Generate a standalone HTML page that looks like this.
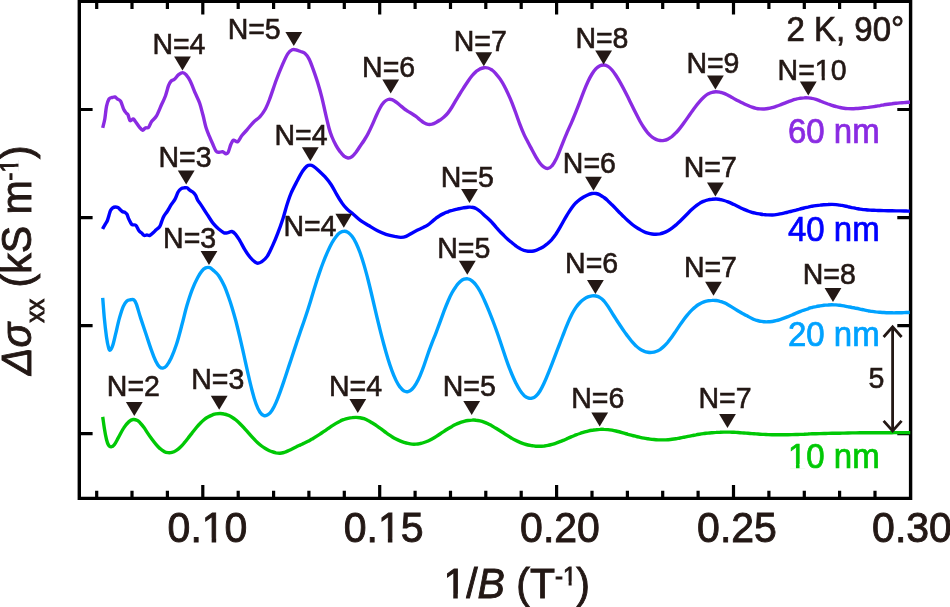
<!DOCTYPE html>
<html lang="en"><head><meta charset="utf-8"><title>SdH oscillations</title>
<style>
html,body{margin:0;padding:0;background:#fff;}
body{width:950px;height:607px;overflow:hidden;}
svg{display:block;font-family:"Liberation Sans",sans-serif;font-kerning:none;}
.n{font-size:28.5px;fill:#231815;stroke:#231815;stroke-width:0.6px;}
.tk{font-size:41px;fill:#231815;stroke:#231815;stroke-width:0.9px;}
.lb{font-size:33px;stroke-width:0.7px;}
</style></head><body>
<svg width="950" height="607" viewBox="0 0 950 607">
<rect width="950" height="607" fill="#fff"/>
<g stroke="#000" stroke-width="3.4" fill="none" stroke-linecap="butt">
<path d="M79.3,1.3 H910.6 V498.4 H79.3 Z"/>
<path stroke-width="3.2" d="M96.7,1.3v7.6M96.7,498.4v-7.6M132.0,1.3v7.6M132.0,498.4v-7.6M167.4,1.3v7.6M167.4,498.4v-7.6M202.8,1.3v13.3M202.8,498.4v-13.3M238.2,1.3v7.6M238.2,498.4v-7.6M273.6,1.3v7.6M273.6,498.4v-7.6M308.9,1.3v7.6M308.9,498.4v-7.6M344.3,1.3v7.6M344.3,498.4v-7.6M379.7,1.3v13.3M379.7,498.4v-13.3M415.1,1.3v7.6M415.1,498.4v-7.6M450.5,1.3v7.6M450.5,498.4v-7.6M485.8,1.3v7.6M485.8,498.4v-7.6M521.2,1.3v7.6M521.2,498.4v-7.6M556.6,1.3v13.3M556.6,498.4v-13.3M592.0,1.3v7.6M592.0,498.4v-7.6M627.4,1.3v7.6M627.4,498.4v-7.6M662.7,1.3v7.6M662.7,498.4v-7.6M698.1,1.3v7.6M698.1,498.4v-7.6M733.5,1.3v13.3M733.5,498.4v-13.3M768.9,1.3v7.6M768.9,498.4v-7.6M804.3,1.3v7.6M804.3,498.4v-7.6M839.6,1.3v7.6M839.6,498.4v-7.6M875.0,1.3v7.6M875.0,498.4v-7.6M79.3,109.5h13.3M910.6,109.5h-13.3M79.3,217.6h13.3M910.6,217.6h-13.3M79.3,325.7h13.3M910.6,325.7h-13.3M79.3,433.7h13.3M910.6,433.7h-13.3"/>
</g>
<path id="c60" d="M102.7,127.9C103.0,126.4 104.2,122.6 104.8,119.0C105.4,115.4 105.8,109.7 106.5,106.4C107.2,103.1 108.0,100.5 109.0,99.0C110.0,97.5 111.2,97.8 112.2,97.5C113.2,97.2 114.0,96.7 114.9,96.9C115.8,97.2 116.5,98.3 117.4,99.0C118.4,99.7 119.5,99.4 120.6,101.1C121.7,102.9 122.8,107.5 123.8,109.5C124.8,111.5 125.6,112.2 126.3,113.1C127.0,114.0 127.4,113.5 128.0,114.8C128.6,116.1 129.2,120.0 130.1,120.7C131.0,121.4 132.3,118.9 133.2,119.0C134.1,119.1 134.3,120.1 135.4,121.5C136.5,122.9 138.4,126.0 139.6,127.4C140.8,128.9 141.8,130.1 142.7,130.2C143.6,130.3 144.3,128.4 145.3,127.9C146.3,127.4 147.6,128.5 148.6,127.4C149.6,126.3 150.3,123.4 151.6,121.5C152.9,119.6 154.8,118.7 156.5,115.8C158.2,112.9 160.2,107.5 161.7,104.2C163.2,100.9 164.4,98.9 165.5,95.8C166.6,92.7 167.6,88.2 168.5,85.7C169.4,83.2 170.2,82.1 171.2,81.0C172.2,79.9 173.2,80.4 174.4,79.3C175.6,78.3 177.2,75.8 178.6,74.7C180.0,73.6 181.6,72.6 182.8,72.6C184.0,72.6 184.8,73.3 186.0,74.7C187.2,76.1 188.6,77.8 190.2,81.0C191.8,84.2 193.9,90.0 195.5,93.7C197.1,97.4 198.5,99.7 199.7,103.2C200.9,106.7 201.8,110.8 202.9,114.8C204.0,118.8 204.9,123.9 206.0,127.4C207.1,130.9 208.1,133.2 209.2,135.9C210.3,138.6 211.2,140.7 212.4,143.3C213.6,145.9 215.1,149.8 216.2,151.3C217.3,152.8 218.0,152.2 219.1,152.3C220.2,152.4 221.3,151.5 222.5,151.7C223.7,152.0 225.2,153.7 226.1,153.8C227.0,153.9 227.4,153.9 228.2,152.3C229.0,150.7 230.0,146.3 230.9,144.3C231.8,142.3 232.4,140.5 233.5,140.1C234.6,139.7 236.3,142.6 237.7,141.8C239.1,141.0 240.3,137.5 241.9,135.5C243.5,133.5 245.3,131.8 247.2,129.6C249.1,127.4 251.4,124.3 253.5,122.2C255.6,120.1 257.9,119.0 259.8,116.9C261.7,114.8 263.5,112.3 265.1,109.5C266.7,106.7 267.4,104.9 269.3,100.0C271.2,95.1 274.1,86.0 276.3,80.0C278.5,74.0 280.8,68.6 282.7,64.2C284.6,59.8 286.3,56.0 287.9,53.6C289.5,51.2 290.8,50.4 292.2,49.8C293.6,49.2 295.0,49.7 296.4,50.0C297.8,50.3 299.2,51.0 300.6,51.5C302.0,52.0 303.4,52.0 304.8,53.2C306.2,54.4 307.6,56.2 309.0,58.9C310.4,61.6 311.8,65.5 313.2,69.4C314.6,73.3 316.1,77.5 317.5,82.1C318.9,86.7 320.4,91.8 321.7,96.9C323.0,102.0 324.1,107.4 325.3,112.7C326.5,118.0 328.0,124.4 329.1,128.5C330.2,132.6 330.9,134.2 332.0,137.0C333.1,139.8 334.7,143.0 336.0,145.4C337.3,147.9 338.7,149.9 340.0,151.6C341.3,153.4 342.7,155.0 344.0,156.1C345.3,157.1 346.7,157.9 348.0,158.0C349.3,158.1 350.7,157.7 352.0,156.7C353.3,155.7 354.7,154.0 356.0,152.3C357.3,150.5 358.7,148.3 360.0,146.3C361.3,144.4 362.7,142.6 364.0,140.5C365.3,138.4 366.7,136.3 368.0,133.7C369.3,131.2 370.7,128.3 372.0,125.4C373.3,122.5 374.7,119.1 376.0,116.2C377.3,113.3 378.7,110.3 380.0,108.0C381.3,105.6 382.7,103.6 384.0,102.2C385.3,100.8 386.7,99.9 388.0,99.5C389.3,99.1 390.7,99.3 392.0,99.7C393.3,100.2 394.7,101.1 396.0,102.0C397.3,102.9 398.7,104.1 400.0,105.2C401.3,106.3 402.7,107.6 404.0,108.6C405.3,109.6 406.7,110.5 408.0,111.4C409.3,112.2 410.7,112.9 412.0,113.7C413.3,114.5 414.7,115.4 416.0,116.4C417.3,117.4 418.7,118.7 420.0,119.8C421.3,120.8 422.7,122.0 424.0,122.8C425.3,123.5 426.7,124.2 428.0,124.4C429.3,124.6 430.7,124.5 432.0,124.2C433.3,123.8 434.7,123.1 436.0,122.4C437.3,121.7 438.7,120.9 440.0,120.0C441.3,119.1 442.7,118.3 444.0,117.1C445.3,115.9 446.7,114.6 448.0,112.9C449.3,111.2 450.7,109.1 452.0,107.0C453.3,104.9 454.7,102.5 456.0,100.2C457.3,98.0 458.7,95.8 460.0,93.6C461.3,91.4 462.7,89.3 464.0,87.3C465.3,85.2 466.7,83.1 468.0,81.2C469.3,79.3 470.7,77.4 472.0,75.8C473.3,74.2 474.7,72.7 476.0,71.6C477.3,70.4 478.7,69.6 480.0,68.9C481.3,68.3 482.7,67.9 484.0,67.7C485.3,67.6 486.7,67.6 488.0,68.0C489.3,68.4 490.7,69.1 492.0,70.0C493.3,71.0 494.7,72.4 496.0,73.9C497.3,75.4 498.7,77.0 500.0,78.9C501.3,80.9 502.7,83.0 504.0,85.5C505.3,87.9 506.7,90.7 508.0,93.6C509.3,96.4 510.7,99.5 512.0,102.8C513.3,106.1 514.7,109.9 516.0,113.5C517.3,117.2 518.7,121.2 520.0,124.7C521.3,128.2 522.7,131.5 524.0,134.4C525.3,137.3 526.7,139.7 528.0,142.3C529.3,144.9 530.7,147.3 532.0,149.8C533.3,152.3 534.7,154.8 536.0,157.1C537.3,159.3 538.7,161.5 540.0,163.2C541.3,164.9 542.7,166.3 544.0,167.2C545.3,168.1 546.7,168.6 548.0,168.4C549.3,168.2 550.7,167.4 552.0,165.8C553.3,164.3 554.7,162.0 556.0,159.3C557.3,156.7 558.7,153.1 560.0,149.9C561.3,146.7 562.7,143.1 564.0,139.9C565.3,136.6 566.7,133.5 568.0,130.4C569.3,127.3 570.7,124.4 572.0,121.3C573.3,118.2 574.7,115.1 576.0,111.7C577.3,108.4 578.7,104.9 580.0,101.4C581.3,97.9 582.7,94.2 584.0,90.9C585.3,87.6 586.7,84.3 588.0,81.5C589.3,78.7 590.7,76.1 592.0,74.0C593.3,71.8 594.7,70.1 596.0,68.7C597.3,67.3 598.7,66.4 600.0,65.7C601.3,65.1 602.7,64.9 604.0,65.0C605.3,65.1 606.7,65.6 608.0,66.4C609.3,67.2 610.7,68.5 612.0,70.0C613.3,71.5 614.7,73.5 616.0,75.5C617.3,77.5 618.7,79.8 620.0,82.1C621.3,84.4 622.7,86.9 624.0,89.5C625.3,92.0 626.7,94.7 628.0,97.3C629.3,100.0 630.7,102.8 632.0,105.5C633.3,108.2 634.7,111.0 636.0,113.6C637.3,116.2 638.7,118.8 640.0,121.2C641.3,123.5 642.7,125.8 644.0,127.8C645.3,129.8 646.7,131.6 648.0,133.2C649.3,134.7 650.7,136.0 652.0,137.0C653.3,138.1 654.7,138.8 656.0,139.4C657.3,140.0 658.7,140.4 660.0,140.5C661.3,140.7 662.7,140.7 664.0,140.4C665.3,140.2 666.7,139.7 668.0,139.1C669.3,138.4 670.7,137.5 672.0,136.5C673.3,135.4 674.7,134.1 676.0,132.7C677.3,131.4 678.7,129.8 680.0,128.1C681.3,126.5 682.7,124.7 684.0,122.8C685.3,121.0 686.7,119.0 688.0,117.1C689.3,115.2 690.7,113.3 692.0,111.4C693.3,109.6 694.7,107.7 696.0,106.0C697.3,104.3 698.7,102.6 700.0,101.1C701.3,99.6 702.7,98.2 704.0,97.0C705.3,95.8 706.7,94.7 708.0,93.9C709.3,93.2 710.7,92.6 712.0,92.3C713.3,91.9 714.7,91.7 716.0,91.7C717.3,91.7 718.7,91.9 720.0,92.2C721.3,92.4 722.7,92.9 724.0,93.4C725.3,93.9 726.7,94.6 728.0,95.2C729.3,95.9 730.7,96.7 732.0,97.4C733.3,98.2 734.7,99.0 736.0,99.7C737.3,100.4 738.7,101.1 740.0,101.8C741.3,102.4 742.7,103.1 744.0,103.7C745.3,104.3 746.7,105.0 748.0,105.5C749.3,106.1 750.7,106.7 752.0,107.1C753.3,107.6 754.7,108.0 756.0,108.3C757.3,108.6 758.7,108.8 760.0,108.9C761.3,109.0 762.7,109.1 764.0,109.0C765.3,108.9 766.7,108.8 768.0,108.5C769.3,108.3 770.7,108.0 772.0,107.6C773.3,107.3 774.7,106.8 776.0,106.4C777.3,106.0 778.7,105.5 780.0,105.0C781.3,104.5 782.7,104.0 784.0,103.4C785.3,102.9 786.7,102.3 788.0,101.8C789.3,101.3 790.7,100.7 792.0,100.3C793.3,99.8 794.7,99.4 796.0,99.1C797.3,98.7 798.7,98.5 800.0,98.3C801.3,98.1 802.7,97.9 804.0,97.9C805.3,97.8 806.7,97.8 808.0,97.9C809.3,98.0 810.7,98.1 812.0,98.4C813.3,98.6 814.7,99.0 816.0,99.4C817.3,99.8 818.7,100.3 820.0,100.9C821.3,101.4 822.7,101.9 824.0,102.5C825.3,103.0 826.7,103.5 828.0,104.0C829.3,104.4 830.7,104.9 832.0,105.3C833.3,105.8 834.7,106.2 836.0,106.5C837.3,106.9 838.7,107.2 840.0,107.5C841.3,107.8 842.7,108.1 844.0,108.2C845.3,108.4 846.7,108.5 848.0,108.6C849.3,108.7 850.7,108.7 852.0,108.7C853.3,108.7 854.7,108.6 856.0,108.5C857.3,108.5 858.7,108.4 860.0,108.2C861.3,108.1 862.7,108.0 864.0,107.8C865.3,107.7 866.7,107.5 868.0,107.4C869.3,107.2 870.7,107.1 872.0,106.9C873.3,106.7 874.7,106.5 876.0,106.3C877.3,106.1 878.7,105.8 880.0,105.6C881.3,105.3 882.7,105.1 884.0,104.8C885.3,104.6 886.7,104.4 888.0,104.2C889.3,104.0 890.7,103.8 892.0,103.7C893.3,103.5 894.7,103.4 896.0,103.3C897.3,103.1 898.7,103.0 900.0,102.9C901.3,102.8 902.7,102.7 904.0,102.6C905.3,102.5 907.0,102.4 908.0,102.3C909.0,102.3 909.7,102.3 910.0,102.3" fill="none" stroke="#8a2be2" stroke-width="3.4" stroke-linejoin="round" stroke-linecap="butt"/>
<path id="c40" d="M102.6,228.9C103.0,228.1 104.5,225.6 105.3,224.2C106.1,222.8 106.8,222.0 107.4,220.5C108.0,219.0 108.5,216.9 109.0,215.2C109.5,213.5 109.9,211.7 110.5,210.5C111.1,209.3 111.9,208.4 112.7,207.8C113.5,207.2 114.4,207.0 115.3,207.0C116.2,207.0 117.1,207.2 117.9,207.6C118.7,208.0 119.3,208.8 120.0,209.4C120.7,210.1 121.4,211.0 122.2,211.5C123.0,212.0 124.0,211.9 124.8,212.3C125.6,212.8 126.3,213.2 126.9,214.2C127.5,215.2 127.9,217.0 128.5,218.4C129.1,219.8 130.0,221.5 130.6,222.6C131.2,223.7 131.4,224.3 132.2,224.7C133.0,225.1 134.5,224.7 135.3,225.0C136.1,225.3 136.3,225.8 136.9,226.8C137.5,227.8 138.2,229.8 139.0,230.8C139.8,231.9 140.8,232.3 141.7,233.1C142.6,233.9 143.4,235.2 144.3,235.5C145.2,235.8 146.0,235.0 146.9,235.0C147.8,235.0 148.6,235.8 149.6,235.5C150.6,235.2 151.6,234.0 152.7,233.1C153.8,232.2 154.8,231.1 155.9,230.0C157.1,228.9 158.6,228.2 159.6,226.8C160.6,225.4 161.0,223.2 161.7,221.5C162.4,219.8 162.8,218.1 163.8,216.3C164.8,214.6 166.3,212.9 167.5,211.0C168.7,209.1 170.0,206.6 171.2,204.7C172.4,202.8 173.8,201.5 174.9,199.4C176.1,197.3 177.1,193.8 178.1,192.0C179.1,190.2 180.1,189.3 181.2,188.6C182.2,187.9 183.4,187.9 184.4,187.8C185.4,187.7 186.1,187.4 187.0,187.8C187.9,188.2 188.7,189.4 189.7,190.1C190.7,190.8 191.8,191.2 192.8,192.0C193.8,192.8 194.7,193.9 195.5,195.2C196.3,196.5 196.8,198.5 197.6,199.9C198.3,201.3 198.9,201.8 200.0,203.4C201.1,205.0 202.6,207.3 203.9,209.4C205.2,211.5 206.5,213.4 208.1,215.8C209.7,218.2 211.6,221.5 213.4,223.7C215.2,225.9 216.9,227.5 218.7,229.0C220.5,230.5 222.4,232.2 224.0,232.8C225.6,233.4 226.9,232.8 228.2,232.6C229.5,232.4 230.6,231.2 231.8,231.5C233.0,231.8 234.3,232.8 235.6,234.3C236.9,235.8 238.2,238.0 239.8,240.6C241.4,243.2 243.3,247.3 245.1,250.1C246.8,252.9 248.7,255.6 250.3,257.5C251.9,259.4 253.4,260.8 254.6,261.7C255.8,262.6 256.5,263.2 257.7,263.2C258.9,263.2 260.3,262.8 261.9,261.7C263.5,260.6 265.4,259.0 267.2,256.4C269.0,253.8 270.7,249.8 272.5,245.9C274.3,242.0 276.1,237.8 277.8,233.2C279.6,228.6 281.4,223.4 283.0,218.5C284.6,213.6 285.9,207.9 287.3,203.7C288.7,199.5 289.4,197.0 291.1,193.1C292.8,189.2 295.5,184.2 297.4,180.5C299.3,176.8 301.1,173.4 302.7,171.0C304.3,168.6 305.7,167.1 306.9,166.1C308.1,165.1 309.1,165.1 310.1,165.1C311.2,165.1 311.8,165.2 313.2,166.1C314.6,167.0 316.6,168.6 318.5,170.4C320.4,172.2 322.8,174.3 324.9,176.7C327.0,179.1 329.3,181.8 331.2,184.7C333.1,187.6 334.8,191.2 336.5,194.2C338.2,197.2 339.9,200.1 341.7,202.6C343.4,205.1 345.1,207.1 347.0,209.0C348.9,210.9 351.0,212.3 353.3,214.2C355.6,216.1 358.1,218.7 360.7,220.6C363.3,222.5 366.4,224.1 369.2,225.8C372.0,227.5 374.8,229.3 377.6,230.7C380.4,232.1 383.2,233.4 386.0,234.3C388.8,235.2 392.0,235.9 394.5,236.4C397.0,236.9 398.9,237.4 400.8,237.4C402.7,237.4 404.0,237.3 406.1,236.4C408.2,235.5 411.2,233.4 413.5,232.2C415.8,231.0 418.2,229.8 420.0,229.0C421.8,228.1 422.7,227.8 424.0,227.1C425.3,226.4 426.7,225.8 428.0,224.9C429.3,224.0 430.7,222.7 432.0,221.6C433.3,220.5 434.7,219.3 436.0,218.2C437.3,217.2 438.7,216.3 440.0,215.5C441.3,214.6 442.7,214.0 444.0,213.4C445.3,212.7 446.7,212.3 448.0,211.8C449.3,211.3 450.7,210.9 452.0,210.5C453.3,210.1 454.7,209.7 456.0,209.4C457.3,209.1 458.7,208.7 460.0,208.5C461.3,208.2 462.7,208.0 464.0,207.7C465.3,207.5 466.7,207.3 468.0,207.2C469.3,207.2 470.7,207.0 472.0,207.3C473.3,207.5 474.7,207.8 476.0,208.5C477.3,209.1 478.7,210.2 480.0,211.3C481.3,212.4 482.7,213.7 484.0,214.9C485.3,216.1 486.7,217.3 488.0,218.5C489.3,219.8 490.7,221.0 492.0,222.5C493.3,223.9 494.7,225.5 496.0,227.1C497.3,228.6 498.7,230.2 500.0,231.6C501.3,233.0 502.7,234.3 504.0,235.6C505.3,236.9 506.7,238.2 508.0,239.4C509.3,240.6 510.7,241.7 512.0,242.8C513.3,243.9 514.7,245.1 516.0,246.0C517.3,247.0 518.7,247.9 520.0,248.6C521.3,249.4 522.7,249.9 524.0,250.4C525.3,250.8 526.7,251.1 528.0,251.2C529.3,251.3 530.7,251.3 532.0,251.2C533.3,251.1 534.7,250.7 536.0,250.3C537.3,249.9 538.7,249.3 540.0,248.6C541.3,247.9 542.7,247.2 544.0,246.3C545.3,245.4 546.7,244.4 548.0,243.3C549.3,242.1 550.7,240.8 552.0,239.3C553.3,237.7 554.7,235.9 556.0,234.0C557.3,232.0 558.7,229.7 560.0,227.4C561.3,225.2 562.7,222.7 564.0,220.3C565.3,218.0 566.7,215.7 568.0,213.5C569.3,211.4 570.7,209.3 572.0,207.5C573.3,205.7 574.7,204.1 576.0,202.7C577.3,201.4 578.7,200.4 580.0,199.4C581.3,198.4 582.7,197.6 584.0,196.8C585.3,196.1 586.7,195.3 588.0,194.8C589.3,194.2 590.7,193.7 592.0,193.5C593.3,193.3 594.7,193.3 596.0,193.5C597.3,193.8 598.7,194.3 600.0,194.9C601.3,195.6 602.7,196.5 604.0,197.5C605.3,198.4 606.7,199.6 608.0,200.9C609.3,202.1 610.7,203.4 612.0,204.8C613.3,206.1 614.7,207.5 616.0,208.9C617.3,210.3 618.7,211.6 620.0,213.0C621.3,214.3 622.7,215.6 624.0,216.9C625.3,218.2 626.7,219.5 628.0,220.7C629.3,221.9 630.7,223.1 632.0,224.2C633.3,225.3 634.7,226.2 636.0,227.1C637.3,228.0 638.7,228.9 640.0,229.6C641.3,230.4 642.7,231.1 644.0,231.7C645.3,232.3 646.7,232.8 648.0,233.1C649.3,233.5 650.7,233.8 652.0,234.0C653.3,234.2 654.7,234.3 656.0,234.3C657.3,234.3 658.7,234.1 660.0,233.9C661.3,233.6 662.7,233.2 664.0,232.7C665.3,232.2 666.7,231.5 668.0,230.8C669.3,230.0 670.7,229.1 672.0,228.1C673.3,227.2 674.7,226.0 676.0,224.9C677.3,223.7 678.7,222.5 680.0,221.2C681.3,219.9 682.7,218.5 684.0,217.2C685.3,215.9 686.7,214.5 688.0,213.2C689.3,211.9 690.7,210.5 692.0,209.3C693.3,208.1 694.7,206.9 696.0,205.9C697.3,204.8 698.7,203.9 700.0,203.1C701.3,202.4 702.7,201.7 704.0,201.2C705.3,200.6 706.7,200.2 708.0,199.9C709.3,199.5 710.7,199.3 712.0,199.2C713.3,199.0 714.7,199.0 716.0,199.0C717.3,199.1 718.7,199.2 720.0,199.5C721.3,199.7 722.7,200.1 724.0,200.5C725.3,200.9 726.7,201.4 728.0,201.9C729.3,202.4 730.7,203.0 732.0,203.6C733.3,204.2 734.7,204.9 736.0,205.5C737.3,206.1 738.7,206.8 740.0,207.5C741.3,208.1 742.7,208.8 744.0,209.4C745.3,210.0 746.7,210.5 748.0,211.0C749.3,211.5 750.7,211.9 752.0,212.3C753.3,212.7 754.7,213.0 756.0,213.3C757.3,213.6 758.7,213.8 760.0,214.0C761.3,214.3 762.7,214.5 764.0,214.6C765.3,214.7 766.7,214.9 768.0,214.9C769.3,215.0 770.7,215.0 772.0,215.0C773.3,214.9 774.7,214.8 776.0,214.6C777.3,214.5 778.7,214.2 780.0,213.9C781.3,213.7 782.7,213.4 784.0,213.1C785.3,212.8 786.7,212.5 788.0,212.1C789.3,211.8 790.7,211.5 792.0,211.1C793.3,210.8 794.7,210.4 796.0,210.1C797.3,209.7 798.7,209.4 800.0,209.0C801.3,208.7 802.7,208.3 804.0,208.0C805.3,207.7 806.7,207.3 808.0,207.1C809.3,206.8 810.7,206.5 812.0,206.2C813.3,206.0 814.7,205.8 816.0,205.6C817.3,205.4 818.7,205.2 820.0,205.1C821.3,204.9 822.7,204.8 824.0,204.7C825.3,204.6 826.7,204.5 828.0,204.5C829.3,204.4 830.7,204.4 832.0,204.4C833.3,204.4 834.7,204.5 836.0,204.6C837.3,204.8 838.7,204.9 840.0,205.1C841.3,205.3 842.7,205.6 844.0,205.8C845.3,206.1 846.7,206.4 848.0,206.7C849.3,206.9 850.7,207.3 852.0,207.6C853.3,207.8 854.7,208.1 856.0,208.4C857.3,208.6 858.7,208.9 860.0,209.1C861.3,209.3 862.7,209.4 864.0,209.6C865.3,209.7 866.7,209.9 868.0,210.0C869.3,210.1 870.7,210.1 872.0,210.2C873.3,210.3 874.7,210.3 876.0,210.4C877.3,210.4 878.7,210.5 880.0,210.5C881.3,210.6 882.7,210.6 884.0,210.6C885.3,210.7 886.7,210.7 888.0,210.7C889.3,210.7 890.7,210.8 892.0,210.8C893.3,210.8 894.7,210.8 896.0,210.9C897.3,210.9 898.7,210.9 900.0,210.9C901.3,211.0 902.7,211.0 904.0,211.0C905.3,211.0 907.0,211.1 908.0,211.1C909.0,211.1 909.7,211.1 910.0,211.1" fill="none" stroke="#0000ff" stroke-width="3.4" stroke-linejoin="round" stroke-linecap="butt"/>
<path id="c20" d="M102.7,297.9C103.0,301.2 103.7,311.4 104.3,317.9C104.9,324.4 105.8,331.9 106.5,336.9C107.2,341.9 108.0,345.7 108.6,347.9C109.2,350.1 109.6,350.4 110.3,350.0C111.0,349.6 111.9,348.0 112.8,345.3C113.7,342.6 114.6,338.3 115.7,333.7C116.8,329.1 118.2,322.5 119.5,317.9C120.8,313.3 122.1,309.1 123.3,306.3C124.5,303.5 125.7,302.1 126.9,301.0C128.1,299.9 129.3,300.0 130.5,299.8C131.7,299.6 132.9,299.1 133.9,299.8C134.9,300.5 135.3,301.2 136.4,304.2C137.5,307.2 139.0,313.0 140.6,317.9C142.2,322.8 144.1,328.4 145.9,333.7C147.7,339.0 149.5,345.0 151.2,349.6C152.8,354.2 154.4,358.3 155.8,361.2C157.2,364.1 158.4,365.8 159.6,366.9C160.8,368.0 161.7,368.2 162.8,368.1C163.9,367.9 165.0,367.7 166.4,366.0C167.8,364.3 169.5,361.6 171.2,358.0C172.9,354.4 174.7,349.7 176.5,344.3C178.3,338.8 180.1,331.8 181.8,325.3C183.6,318.8 185.2,311.3 187.0,305.3C188.8,299.3 190.5,294.0 192.3,289.4C194.1,284.8 196.0,280.8 197.6,277.8C199.2,274.7 200.5,272.7 201.8,271.1C203.1,269.4 204.3,268.5 205.6,267.9C206.9,267.3 208.5,267.3 209.8,267.7C211.1,268.1 211.9,269.1 213.4,270.4C214.9,271.7 216.9,273.2 218.7,275.7C220.5,278.2 222.4,281.9 224.0,285.2C225.6,288.5 226.7,291.7 228.0,295.4C229.3,299.1 230.7,303.0 232.0,307.4C233.3,311.7 234.7,316.5 236.0,321.5C237.3,326.6 238.7,332.3 240.0,337.9C241.3,343.6 242.7,349.5 244.0,355.5C245.3,361.4 246.7,367.7 248.0,373.5C249.3,379.2 250.7,385.2 252.0,390.2C253.3,395.3 254.7,400.1 256.0,403.8C257.3,407.5 258.7,410.3 260.0,412.3C261.3,414.3 262.7,415.2 264.0,415.6C265.3,416.0 266.7,415.6 268.0,414.7C269.3,413.8 270.7,412.4 272.0,410.3C273.3,408.3 274.7,405.6 276.0,402.6C277.3,399.6 278.7,396.0 280.0,392.4C281.3,388.8 282.7,384.8 284.0,380.9C285.3,376.9 286.7,372.9 288.0,368.8C289.3,364.8 290.7,360.8 292.0,356.7C293.3,352.7 294.7,348.6 296.0,344.6C297.3,340.6 298.7,336.6 300.0,332.7C301.3,328.9 302.7,325.2 304.0,321.3C305.3,317.3 306.7,313.4 308.0,309.3C309.3,305.1 310.7,300.6 312.0,296.3C313.3,292.0 314.7,287.4 316.0,283.2C317.3,279.0 318.7,274.9 320.0,271.1C321.3,267.3 322.7,263.7 324.0,260.3C325.3,257.0 326.7,253.8 328.0,250.9C329.3,248.0 330.7,245.2 332.0,242.8C333.3,240.4 334.7,238.3 336.0,236.7C337.3,235.0 338.7,233.6 340.0,232.7C341.3,231.8 342.7,231.3 344.0,231.3C345.3,231.2 346.7,231.6 348.0,232.4C349.3,233.3 350.7,234.6 352.0,236.3C353.3,238.0 354.7,240.2 356.0,242.9C357.3,245.6 358.7,248.8 360.0,252.5C361.3,256.2 362.7,260.4 364.0,264.9C365.3,269.4 366.7,274.3 368.0,279.5C369.3,284.7 370.7,290.4 372.0,296.0C373.3,301.6 374.7,307.5 376.0,313.1C377.3,318.7 378.7,324.3 380.0,329.6C381.3,334.9 382.7,340.1 384.0,345.0C385.3,349.9 386.7,354.7 388.0,359.1C389.3,363.4 390.7,367.4 392.0,370.9C393.3,374.5 394.7,377.6 396.0,380.4C397.3,383.1 398.7,385.4 400.0,387.1C401.3,388.9 402.7,390.2 404.0,390.9C405.3,391.7 406.7,391.9 408.0,391.6C409.3,391.3 410.7,390.6 412.0,389.3C413.3,388.0 414.7,386.1 416.0,383.9C417.3,381.6 418.7,378.9 420.0,375.8C421.3,372.8 422.7,369.2 424.0,365.5C425.3,361.8 426.7,357.6 428.0,353.8C429.3,350.0 430.7,346.4 432.0,342.9C433.3,339.4 434.7,336.2 436.0,332.8C437.3,329.4 438.7,325.8 440.0,322.2C441.3,318.6 442.7,314.7 444.0,311.2C445.3,307.7 446.7,304.2 448.0,301.2C449.3,298.1 450.7,295.2 452.0,292.8C453.3,290.3 454.7,288.2 456.0,286.4C457.3,284.5 458.7,283.0 460.0,281.8C461.3,280.7 462.7,279.7 464.0,279.2C465.3,278.8 466.7,278.6 468.0,278.9C469.3,279.1 470.7,279.8 472.0,280.8C473.3,281.8 474.7,283.2 476.0,285.0C477.3,286.7 478.7,288.9 480.0,291.3C481.3,293.7 482.7,296.6 484.0,299.4C485.3,302.3 486.7,305.4 488.0,308.6C489.3,311.8 490.7,315.2 492.0,318.6C493.3,322.0 494.7,325.5 496.0,329.2C497.3,332.9 498.7,336.8 500.0,340.7C501.3,344.6 502.7,348.8 504.0,352.7C505.3,356.7 506.7,360.8 508.0,364.4C509.3,368.0 510.7,371.4 512.0,374.5C513.3,377.7 514.7,380.6 516.0,383.3C517.3,385.9 518.7,388.4 520.0,390.4C521.3,392.4 522.7,394.1 524.0,395.4C525.3,396.6 526.7,397.5 528.0,397.9C529.3,398.4 530.7,398.5 532.0,398.2C533.3,397.9 534.7,397.2 536.0,396.0C537.3,394.8 538.7,393.1 540.0,391.0C541.3,388.9 542.7,386.1 544.0,383.3C545.3,380.5 546.7,377.2 548.0,373.9C549.3,370.7 550.7,367.3 552.0,363.9C553.3,360.4 554.7,356.9 556.0,353.4C557.3,349.9 558.7,346.4 560.0,343.0C561.3,339.5 562.7,336.0 564.0,332.6C565.3,329.2 566.7,325.8 568.0,322.7C569.3,319.6 570.7,316.6 572.0,314.0C573.3,311.5 574.7,309.4 576.0,307.4C577.3,305.5 578.7,303.9 580.0,302.5C581.3,301.1 582.7,300.0 584.0,299.1C585.3,298.2 586.7,297.4 588.0,296.9C589.3,296.4 590.7,296.1 592.0,295.9C593.3,295.8 594.7,295.7 596.0,296.0C597.3,296.3 598.7,296.7 600.0,297.6C601.3,298.4 602.7,299.6 604.0,301.0C605.3,302.5 606.7,304.5 608.0,306.4C609.3,308.4 610.7,310.7 612.0,312.8C613.3,314.9 614.7,317.1 616.0,319.2C617.3,321.3 618.7,323.3 620.0,325.3C621.3,327.3 622.7,329.2 624.0,331.1C625.3,333.0 626.7,334.8 628.0,336.6C629.3,338.4 630.7,340.1 632.0,341.7C633.3,343.2 634.7,344.7 636.0,345.9C637.3,347.2 638.7,348.2 640.0,349.1C641.3,350.0 642.7,350.7 644.0,351.2C645.3,351.8 646.7,352.1 648.0,352.3C649.3,352.5 650.7,352.5 652.0,352.4C653.3,352.3 654.7,352.0 656.0,351.5C657.3,351.1 658.7,350.4 660.0,349.6C661.3,348.7 662.7,347.6 664.0,346.3C665.3,345.1 666.7,343.6 668.0,342.0C669.3,340.3 670.7,338.5 672.0,336.7C673.3,334.8 674.7,332.8 676.0,330.9C677.3,328.9 678.7,326.9 680.0,324.9C681.3,323.0 682.7,321.1 684.0,319.3C685.3,317.5 686.7,315.8 688.0,314.2C689.3,312.6 690.7,311.2 692.0,309.9C693.3,308.6 694.7,307.4 696.0,306.4C697.3,305.3 698.7,304.5 700.0,303.7C701.3,303.0 702.7,302.4 704.0,301.9C705.3,301.4 706.7,301.1 708.0,300.8C709.3,300.6 710.7,300.4 712.0,300.4C713.3,300.3 714.7,300.4 716.0,300.5C717.3,300.7 718.7,300.9 720.0,301.3C721.3,301.6 722.7,302.1 724.0,302.7C725.3,303.2 726.7,303.9 728.0,304.7C729.3,305.4 730.7,306.3 732.0,307.1C733.3,307.9 734.7,308.8 736.0,309.6C737.3,310.5 738.7,311.3 740.0,312.0C741.3,312.8 742.7,313.5 744.0,314.2C745.3,315.0 746.7,315.7 748.0,316.4C749.3,317.2 750.7,317.9 752.0,318.5C753.3,319.2 754.7,319.7 756.0,320.2C757.3,320.6 758.7,321.0 760.0,321.2C761.3,321.5 762.7,321.6 764.0,321.7C765.3,321.8 766.7,321.9 768.0,321.8C769.3,321.8 770.7,321.7 772.0,321.5C773.3,321.3 774.7,321.1 776.0,320.7C777.3,320.4 778.7,320.0 780.0,319.6C781.3,319.2 782.7,318.7 784.0,318.2C785.3,317.7 786.7,317.2 788.0,316.7C789.3,316.1 790.7,315.5 792.0,315.0C793.3,314.4 794.7,313.8 796.0,313.2C797.3,312.7 798.7,312.1 800.0,311.6C801.3,311.1 802.7,310.6 804.0,310.2C805.3,309.7 806.7,309.2 808.0,308.8C809.3,308.3 810.7,307.9 812.0,307.5C813.3,307.2 814.7,306.8 816.0,306.6C817.3,306.3 818.7,306.1 820.0,305.9C821.3,305.7 822.7,305.5 824.0,305.3C825.3,305.2 826.7,305.0 828.0,305.0C829.3,304.9 830.7,304.8 832.0,304.8C833.3,304.8 834.7,304.9 836.0,304.9C837.3,305.0 838.7,305.2 840.0,305.3C841.3,305.5 842.7,305.7 844.0,305.9C845.3,306.2 846.7,306.4 848.0,306.7C849.3,306.9 850.7,307.2 852.0,307.5C853.3,307.7 854.7,308.0 856.0,308.3C857.3,308.5 858.7,308.8 860.0,309.1C861.3,309.4 862.7,309.6 864.0,309.9C865.3,310.2 866.7,310.4 868.0,310.7C869.3,310.9 870.7,311.2 872.0,311.4C873.3,311.6 874.7,311.7 876.0,311.9C877.3,312.0 878.7,312.2 880.0,312.3C881.3,312.4 882.7,312.5 884.0,312.5C885.3,312.6 886.7,312.7 888.0,312.7C889.3,312.8 890.7,312.8 892.0,312.8C893.3,312.9 894.7,312.9 896.0,312.8C897.3,312.8 898.7,312.8 900.0,312.8C901.3,312.7 902.7,312.7 904.0,312.6C905.3,312.6 907.0,312.5 908.0,312.5C909.0,312.4 909.4,312.4 909.7,312.4" fill="none" stroke="#00a2ff" stroke-width="3.4" stroke-linejoin="round" stroke-linecap="butt"/>
<path id="c10" d="M102.7,416.9C103.0,418.7 103.7,424.1 104.3,427.9C104.9,431.7 105.8,436.6 106.5,439.5C107.2,442.4 107.8,444.0 108.6,445.2C109.4,446.4 110.1,447.0 111.1,446.9C112.0,446.8 113.1,446.4 114.3,444.8C115.5,443.2 116.9,440.2 118.5,437.4C120.1,434.6 122.0,430.5 123.8,427.9C125.5,425.3 127.4,423.0 129.0,421.6C130.6,420.2 131.8,419.7 133.2,419.5C134.6,419.3 136.4,420.0 137.5,420.5C138.6,421.0 138.9,421.5 140.0,422.7C141.1,423.8 142.7,425.8 144.0,427.6C145.3,429.4 146.7,431.7 148.0,433.6C149.3,435.6 150.7,437.5 152.0,439.3C153.3,441.1 154.7,442.9 156.0,444.4C157.3,446.0 158.7,447.5 160.0,448.6C161.3,449.8 162.7,450.8 164.0,451.4C165.3,452.1 166.7,452.5 168.0,452.6C169.3,452.8 170.7,452.7 172.0,452.3C173.3,452.0 174.7,451.4 176.0,450.6C177.3,449.8 178.7,448.8 180.0,447.5C181.3,446.3 182.7,444.8 184.0,443.2C185.3,441.7 186.7,439.9 188.0,438.2C189.3,436.5 190.7,434.8 192.0,433.1C193.3,431.3 194.7,429.6 196.0,428.0C197.3,426.4 198.7,424.8 200.0,423.5C201.3,422.1 202.7,420.8 204.0,419.7C205.3,418.6 206.7,417.7 208.0,417.0C209.3,416.2 210.7,415.6 212.0,415.1C213.3,414.5 214.7,414.2 216.0,413.9C217.3,413.7 218.7,413.5 220.0,413.5C221.3,413.6 222.7,413.7 224.0,414.0C225.3,414.2 226.7,414.6 228.0,415.2C229.3,415.7 230.7,416.4 232.0,417.2C233.3,418.0 234.7,419.0 236.0,420.0C237.3,421.1 238.7,422.4 240.0,423.7C241.3,425.0 242.7,426.4 244.0,427.9C245.3,429.4 246.7,430.9 248.0,432.4C249.3,433.9 250.7,435.5 252.0,436.9C253.3,438.4 254.7,439.8 256.0,441.1C257.3,442.4 258.7,443.6 260.0,444.7C261.3,445.8 262.7,446.8 264.0,447.6C265.3,448.5 266.7,449.3 268.0,450.0C269.3,450.7 270.7,451.2 272.0,451.7C273.3,452.2 274.7,452.6 276.0,452.9C277.3,453.1 278.7,453.3 280.0,453.2C281.3,453.1 282.7,452.8 284.0,452.5C285.3,452.1 286.7,451.5 288.0,450.9C289.3,450.3 290.7,449.6 292.0,449.0C293.3,448.3 294.7,447.6 296.0,447.0C297.3,446.3 298.7,445.7 300.0,445.1C301.3,444.5 302.7,443.9 304.0,443.3C305.3,442.7 306.7,442.0 308.0,441.3C309.3,440.6 310.7,439.8 312.0,439.1C313.3,438.3 314.7,437.5 316.0,436.6C317.3,435.8 318.7,434.9 320.0,434.1C321.3,433.2 322.7,432.3 324.0,431.4C325.3,430.5 326.7,429.6 328.0,428.7C329.3,427.7 330.7,426.8 332.0,425.9C333.3,425.1 334.7,424.2 336.0,423.4C337.3,422.6 338.7,421.8 340.0,421.2C341.3,420.5 342.7,420.0 344.0,419.5C345.3,419.0 346.7,418.6 348.0,418.3C349.3,418.0 350.7,417.7 352.0,417.6C353.3,417.4 354.7,417.4 356.0,417.4C357.3,417.4 358.7,417.5 360.0,417.7C361.3,417.9 362.7,418.2 364.0,418.7C365.3,419.2 366.7,419.8 368.0,420.5C369.3,421.1 370.7,422.0 372.0,422.8C373.3,423.6 374.7,424.5 376.0,425.3C377.3,426.2 378.7,427.1 380.0,428.1C381.3,429.0 382.7,430.1 384.0,431.1C385.3,432.1 386.7,433.1 388.0,434.1C389.3,435.0 390.7,435.9 392.0,436.8C393.3,437.6 394.7,438.4 396.0,439.1C397.3,439.8 398.7,440.4 400.0,440.9C401.3,441.5 402.7,442.0 404.0,442.4C405.3,442.8 406.7,443.2 408.0,443.4C409.3,443.7 410.7,444.0 412.0,444.1C413.3,444.2 414.7,444.2 416.0,444.1C417.3,444.1 418.7,443.9 420.0,443.6C421.3,443.3 422.7,443.0 424.0,442.5C425.3,442.1 426.7,441.6 428.0,441.0C429.3,440.4 430.7,439.8 432.0,439.0C433.3,438.3 434.7,437.5 436.0,436.6C437.3,435.8 438.7,434.9 440.0,434.0C441.3,433.1 442.7,432.2 444.0,431.4C445.3,430.5 446.7,429.6 448.0,428.8C449.3,428.0 450.7,427.1 452.0,426.4C453.3,425.6 454.7,424.9 456.0,424.3C457.3,423.6 458.7,423.1 460.0,422.6C461.3,422.1 462.7,421.7 464.0,421.3C465.3,421.0 466.7,420.7 468.0,420.5C469.3,420.3 470.7,420.1 472.0,420.1C473.3,420.0 474.7,420.0 476.0,420.2C477.3,420.3 478.7,420.6 480.0,420.9C481.3,421.2 482.7,421.6 484.0,422.1C485.3,422.6 486.7,423.2 488.0,423.8C489.3,424.5 490.7,425.2 492.0,425.9C493.3,426.7 494.7,427.5 496.0,428.3C497.3,429.1 498.7,430.0 500.0,430.8C501.3,431.6 502.7,432.5 504.0,433.3C505.3,434.2 506.7,435.1 508.0,435.9C509.3,436.8 510.7,437.6 512.0,438.4C513.3,439.2 514.7,439.9 516.0,440.6C517.3,441.3 518.7,441.9 520.0,442.4C521.3,443.0 522.7,443.5 524.0,443.9C525.3,444.3 526.7,444.7 528.0,445.0C529.3,445.3 530.7,445.5 532.0,445.7C533.3,446.0 534.7,446.1 536.0,446.2C537.3,446.3 538.7,446.3 540.0,446.3C541.3,446.3 542.7,446.2 544.0,446.1C545.3,445.9 546.7,445.7 548.0,445.4C549.3,445.1 550.7,444.8 552.0,444.4C553.3,444.1 554.7,443.6 556.0,443.2C557.3,442.7 558.7,442.2 560.0,441.7C561.3,441.2 562.7,440.6 564.0,440.1C565.3,439.5 566.7,438.9 568.0,438.3C569.3,437.7 570.7,437.1 572.0,436.5C573.3,436.0 574.7,435.4 576.0,434.9C577.3,434.4 578.7,433.9 580.0,433.5C581.3,433.0 582.7,432.6 584.0,432.2C585.3,431.8 586.7,431.5 588.0,431.1C589.3,430.8 590.7,430.5 592.0,430.3C593.3,430.0 594.7,429.8 596.0,429.7C597.3,429.5 598.7,429.4 600.0,429.4C601.3,429.3 602.7,429.3 604.0,429.4C605.3,429.4 606.7,429.5 608.0,429.6C609.3,429.7 610.7,429.9 612.0,430.1C613.3,430.4 614.7,430.7 616.0,431.0C617.3,431.3 618.7,431.7 620.0,432.0C621.3,432.4 622.7,432.8 624.0,433.2C625.3,433.6 626.7,433.9 628.0,434.3C629.3,434.6 630.7,435.0 632.0,435.3C633.3,435.7 634.7,436.0 636.0,436.3C637.3,436.7 638.7,437.0 640.0,437.3C641.3,437.6 642.7,437.9 644.0,438.1C645.3,438.4 646.7,438.6 648.0,438.8C649.3,439.0 650.7,439.2 652.0,439.4C653.3,439.5 654.7,439.6 656.0,439.7C657.3,439.8 658.7,439.9 660.0,439.9C661.3,439.9 662.7,439.9 664.0,439.9C665.3,439.9 666.7,439.8 668.0,439.7C669.3,439.6 670.7,439.5 672.0,439.3C673.3,439.1 674.7,438.9 676.0,438.7C677.3,438.5 678.7,438.2 680.0,438.0C681.3,437.8 682.7,437.5 684.0,437.2C685.3,437.0 686.7,436.7 688.0,436.4C689.3,436.2 690.7,435.9 692.0,435.6C693.3,435.4 694.7,435.1 696.0,434.9C697.3,434.6 698.7,434.4 700.0,434.2C701.3,433.9 702.7,433.7 704.0,433.5C705.3,433.4 706.7,433.2 708.0,433.1C709.3,432.9 710.7,432.8 712.0,432.7C713.3,432.5 714.7,432.4 716.0,432.4C717.3,432.3 718.7,432.2 720.0,432.2C721.3,432.1 722.7,432.1 724.0,432.1C725.3,432.1 726.7,432.1 728.0,432.1C729.3,432.1 730.7,432.2 732.0,432.2C733.3,432.3 734.7,432.3 736.0,432.4C737.3,432.5 738.7,432.6 740.0,432.7C741.3,432.8 742.7,432.9 744.0,433.0C745.3,433.1 746.7,433.2 748.0,433.3C749.3,433.4 750.7,433.5 752.0,433.6C753.3,433.7 754.7,433.8 756.0,433.9C757.3,434.0 758.7,434.1 760.0,434.2C761.3,434.3 762.7,434.4 764.0,434.4C765.3,434.5 766.7,434.5 768.0,434.6C769.3,434.6 770.7,434.6 772.0,434.7C773.3,434.7 774.7,434.7 776.0,434.7C777.3,434.7 778.7,434.7 780.0,434.7C781.3,434.7 782.7,434.7 784.0,434.7C785.3,434.7 786.7,434.7 788.0,434.7C789.3,434.7 790.7,434.7 792.0,434.6C793.3,434.6 794.7,434.6 796.0,434.5C797.3,434.5 798.7,434.4 800.0,434.4C801.3,434.3 802.7,434.2 804.0,434.2C805.3,434.1 806.7,434.0 808.0,434.0C809.3,433.9 810.7,433.9 812.0,433.8C813.3,433.8 814.7,433.7 816.0,433.7C817.3,433.6 818.7,433.6 820.0,433.6C821.3,433.5 822.7,433.5 824.0,433.5C825.3,433.5 826.7,433.4 828.0,433.4C829.3,433.4 830.7,433.4 832.0,433.3C833.3,433.3 834.7,433.3 836.0,433.3C837.3,433.2 838.7,433.2 840.0,433.2C841.3,433.2 842.7,433.1 844.0,433.1C845.3,433.1 846.7,433.1 848.0,433.0C849.3,433.0 850.7,433.0 852.0,432.9C853.3,432.9 854.7,432.9 856.0,432.9C857.3,432.8 858.7,432.8 860.0,432.8C861.3,432.8 862.7,432.8 864.0,432.8C865.3,432.8 866.7,432.8 868.0,432.7C869.3,432.7 870.7,432.7 872.0,432.7C873.3,432.7 874.7,432.7 876.0,432.7C877.3,432.7 878.7,432.7 880.0,432.7C881.3,432.7 882.7,432.7 884.0,432.7C885.3,432.7 886.7,432.7 888.0,432.7C889.3,432.7 890.7,432.7 892.0,432.7C893.3,432.7 894.7,432.6 896.0,432.6C897.3,432.6 898.7,432.6 900.0,432.6C901.3,432.6 902.7,432.6 904.0,432.6C905.3,432.6 907.0,432.6 908.0,432.6C909.0,432.6 909.8,432.6 910.2,432.6" fill="none" stroke="#00c805" stroke-width="3.4" stroke-linejoin="round" stroke-linecap="butt"/>
<path fill="#231815" d="M182.5,70.6l-8.4,-14.0h16.8z"/><g transform="translate(152.40,54.20) scale(1,1.050)"><text class="n" >N=4</text></g>
<path fill="#231815" d="M293.8,46.0l-8.4,-14.0h16.8z"/><path fill="#231815" d="M390.7,93.5l-8.4,-14.0h16.8z"/><g transform="translate(362.10,77.30) scale(1,1.050)"><text class="n" >N=6</text></g>
<path fill="#231815" d="M483.8,66.3l-8.4,-14.0h16.8z"/><g transform="translate(453.70,51.00) scale(1,1.050)"><text class="n" >N=7</text></g>
<path fill="#231815" d="M603.6,64.6l-8.4,-14.0h16.8z"/><g transform="translate(575.40,48.30) scale(1,1.050)"><text class="n" >N=8</text></g>
<path fill="#231815" d="M715.4,89.4l-8.4,-14.0h16.8z"/><g transform="translate(686.40,72.90) scale(1,1.050)"><text class="n" >N=9</text></g>
<path fill="#231815" d="M808.3,95.4l-8.4,-14.0h16.8z"/><g transform="translate(777.60,79.85) scale(1,1.050)"><text class="n" >N=10</text><rect x="38.20" y="-3.13" width="5.90" height="4.23" fill="#fff"/><rect x="47.21" y="-3.13" width="5.67" height="4.23" fill="#fff"/></g>
<path fill="#231815" d="M186.2,184.6l-8.4,-14.0h16.8z"/><g transform="translate(158.50,167.20) scale(1,1.050)"><text class="n" >N=3</text></g>
<path fill="#231815" d="M310.3,161.3l-8.4,-14.0h16.8z"/><path fill="#231815" d="M469.5,202.9l-8.4,-14.0h16.8z"/><path fill="#231815" d="M593.5,190.8l-8.4,-14.0h16.8z"/><g transform="translate(562.80,173.20) scale(1,1.050)"><text class="n" >N=6</text></g>
<path fill="#231815" d="M715.4,196.4l-8.4,-14.0h16.8z"/><g transform="translate(683.70,177.10) scale(1,1.050)"><text class="n" >N=7</text></g>
<path fill="#231815" d="M209.0,265.0l-8.4,-14.0h16.8z"/><g transform="translate(163.10,247.90) scale(1,1.050)"><text class="n" >N=3</text></g>
<path fill="#231815" d="M343.8,227.7l-8.4,-14.0h16.8z"/><g transform="translate(283.40,235.60) scale(1,1.050)"><text class="n" >N=4</text></g>
<path fill="#231815" d="M467.3,274.7l-8.4,-14.0h16.8z"/><g transform="translate(437.20,257.50) scale(1,1.050)"><text class="n" >N=5</text></g>
<path fill="#231815" d="M595.4,294.0l-8.4,-14.0h16.8z"/><g transform="translate(565.10,273.30) scale(1,1.050)"><text class="n" >N=6</text></g>
<path fill="#231815" d="M713.5,295.8l-8.4,-14.0h16.8z"/><g transform="translate(683.90,276.80) scale(1,1.050)"><text class="n" >N=7</text></g>
<path fill="#231815" d="M833.0,301.9l-8.4,-14.0h16.8z"/><g transform="translate(802.70,283.60) scale(1,1.050)"><text class="n" >N=8</text></g>
<path fill="#231815" d="M134.3,416.1l-8.4,-14.0h16.8z"/><g transform="translate(106.80,396.00) scale(1,1.050)"><text class="n" >N=2</text></g>
<path fill="#231815" d="M219.2,409.7l-8.4,-14.0h16.8z"/><g transform="translate(191.20,388.60) scale(1,1.050)"><text class="n" >N=3</text></g>
<path fill="#231815" d="M357.8,413.0l-8.4,-14.0h16.8z"/><g transform="translate(329.00,395.60) scale(1,1.050)"><text class="n" >N=4</text></g>
<path fill="#231815" d="M471.7,415.1l-8.4,-14.0h16.8z"/><g transform="translate(442.70,395.70) scale(1,1.050)"><text class="n" >N=5</text></g>
<path fill="#231815" d="M599.7,426.6l-8.4,-14.0h16.8z"/><g transform="translate(571.20,408.30) scale(1,1.050)"><text class="n" >N=6</text></g>
<path fill="#231815" d="M727.5,428.1l-8.4,-14.0h16.8z"/><g transform="translate(698.50,408.30) scale(1,1.050)"><text class="n" >N=7</text></g>
<g transform="translate(227.65,38.50) scale(1,1.050)"><text class="n" >N=5</text></g>
<g transform="translate(274.50,144.60) scale(1,1.050)"><text class="n" >N=4</text></g>
<g transform="translate(440.70,186.70) scale(1,1.050)"><text class="n" >N=5</text></g>
<g transform="translate(788.00,142.50) scale(1,1.050)"><text class="lb" fill="#8a2be2" stroke="#8a2be2">60 nm</text></g>
<g transform="translate(788.00,240.70) scale(1,1.050)"><text class="lb" fill="#0000ff" stroke="#0000ff">40 nm</text></g>
<g transform="translate(788.00,345.50) scale(1,1.050)"><text class="lb" fill="#00a2ff" stroke="#00a2ff">20 nm</text></g>
<g transform="translate(788.00,467.60) scale(1,1.050)"><text class="lb" fill="#00c805" stroke="#00c805">10 nm</text><rect x="1.26" y="-3.52" width="6.68" height="4.67" fill="#fff"/><rect x="11.56" y="-3.52" width="6.43" height="4.67" fill="#fff"/></g>
<g transform="translate(786.50,40.60) scale(1,1.050)"><text class="lb" fill="#231815" stroke="#231815">2 K, 90°</text></g>
<g stroke="#231815" stroke-width="2.8" fill="none"><path d="M892.6,327V431"/><path d="M883.6,337L892.6,326.9L901.6,337"/><path d="M883.6,420.9L892.6,431L901.6,420.9"/></g>
<g transform="translate(868.60,387.60) scale(1,1.050)"><text class="n" >5</text></g>
<g transform="translate(167.60,542.30) scale(1,1.050)"><text class="tk" >0.10</text><rect x="35.97" y="-4.21" width="8.09" height="5.46" fill="#fff"/><rect x="48.58" y="-4.21" width="7.77" height="5.46" fill="#fff"/></g>
<g transform="translate(343.80,542.30) scale(1,1.050)"><text class="tk" >0.15</text><rect x="35.97" y="-4.21" width="8.09" height="5.46" fill="#fff"/><rect x="48.58" y="-4.21" width="7.77" height="5.46" fill="#fff"/></g>
<g transform="translate(520.10,542.30) scale(1,1.050)"><text class="tk" >0.20</text></g>
<g transform="translate(697.10,542.30) scale(1,1.050)"><text class="tk" >0.25</text></g>
<g transform="translate(872.10,542.30) scale(1,1.050)"><text class="tk" >0.30</text></g>
<g transform="translate(443.40,598.20) scale(1,1.050)"><text class="tk" >1/<tspan font-style="italic">B</tspan> (T<tspan font-size="24" dy="-12.9">-1</tspan><tspan dy="12.9">)</tspan></text><rect x="1.77" y="-4.21" width="8.09" height="5.46" fill="#fff"/><rect x="14.38" y="-4.21" width="7.77" height="5.46" fill="#fff"/><rect x="120.10" y="-15.84" width="5.11" height="4.19" fill="#fff"/><rect x="128.23" y="-15.84" width="4.92" height="4.19" fill="#fff"/></g>
<g transform="translate(31.10,375.00) rotate(-90) scale(1,1.050)"><text class="tk" ><tspan font-style="italic">Δσ</tspan><tspan font-size="24" dy="12.1">xx</tspan><tspan dy="-12.1"> (kS m</tspan><tspan font-size="24" dy="-12.9">-1</tspan><tspan dy="12.9">)</tspan></text><rect x="203.14" y="-15.84" width="5.11" height="4.19" fill="#fff"/><rect x="211.26" y="-15.84" width="4.92" height="4.19" fill="#fff"/></g>
</svg>
</body></html>
